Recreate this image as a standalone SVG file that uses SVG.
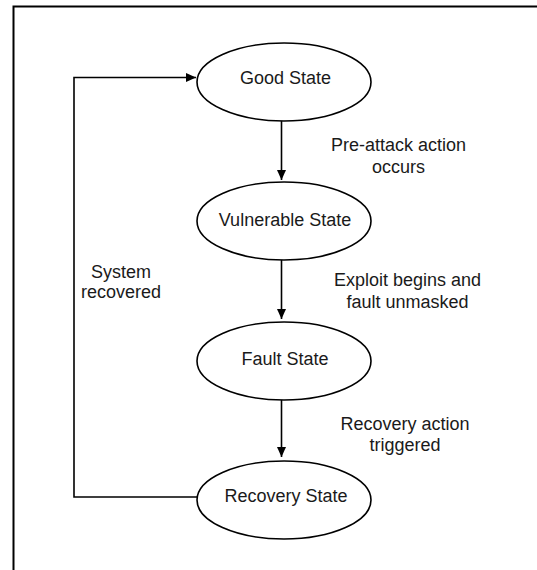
<svg xmlns="http://www.w3.org/2000/svg" width="537" height="570" viewBox="0 0 537 570">
<defs>
<style>
.node ellipse{fill:#fff;stroke:#000;stroke-width:1.6}
.t{font-family:"Liberation Sans",Arial,sans-serif;font-size:18px;fill:#1a1a1a;text-anchor:middle}
.c{fill:none;stroke:#000;stroke-width:1.6}
</style>
<marker id="ah" viewBox="0 0 10 10" refX="10" refY="5" markerUnits="userSpaceOnUse" markerWidth="10" markerHeight="10" orient="auto">
<path d="M0,0.5 L10,5 L0,9.5 z" fill="#000"/>
</marker>
</defs>
<rect width="537" height="570" fill="#fff"/>
<path d="M13.5,570 V6.5 H537" fill="none" stroke="#000" stroke-width="2"/>
<g id="connectors">
<path class="c" d="M281.5,121 V180" marker-end="url(#ah)"/>
<path class="c" d="M281.5,260 V319" marker-end="url(#ah)"/>
<path class="c" d="M281.5,400 V457" marker-end="url(#ah)"/>
<path class="c" d="M197.5,497 H74 V77.5 H196" marker-end="url(#ah)"/>
<text class="t" x="398.5" y="151">Pre-attack action</text>
<text class="t" x="398.5" y="172.5">occurs</text>
<text class="t" x="407.5" y="286">Exploit begins and</text>
<text class="t" x="407.5" y="307.5">fault unmasked</text>
<text class="t" x="405" y="430">Recovery action</text>
<text class="t" x="405" y="451">triggered</text>
<text class="t" x="121" y="277.5">System</text>
<text class="t" x="121" y="298">recovered</text>
</g>
<g id="good" class="node">
<ellipse cx="284" cy="82" rx="87" ry="39"/>
<text class="t" x="285.5" y="84">Good State</text>
</g>
<g id="vulnerable" class="node">
<ellipse cx="284" cy="221" rx="87" ry="39"/>
<text class="t" x="285" y="225.5">Vulnerable State</text>
</g>
<g id="fault" class="node">
<ellipse cx="284" cy="361" rx="87" ry="39"/>
<text class="t" x="285" y="365">Fault State</text>
</g>
<g id="recovery" class="node">
<ellipse cx="284" cy="500" rx="87" ry="39"/>
<text class="t" x="286" y="502">Recovery State</text>
</g>
</svg>
